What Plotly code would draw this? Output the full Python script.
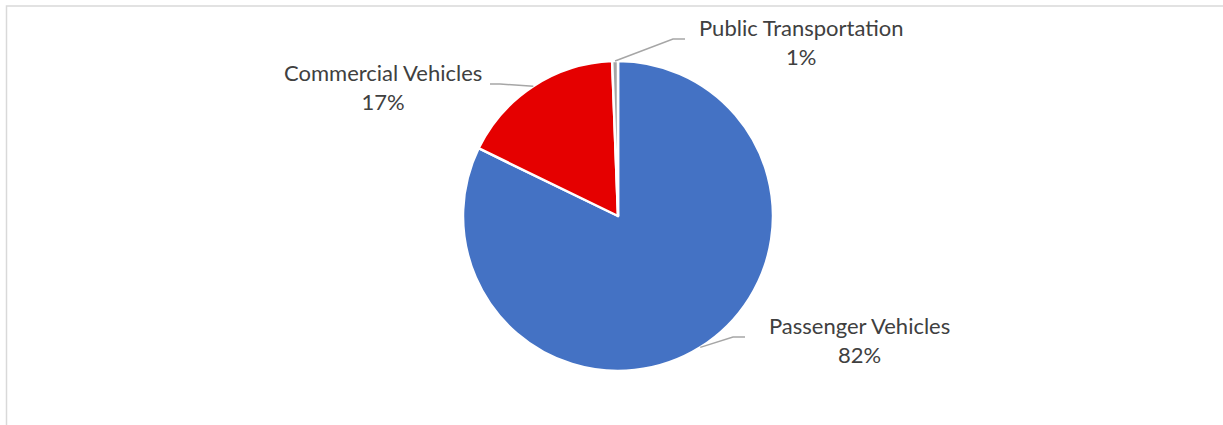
import math
import plotly.graph_objects as go

# data
categories = ["Passenger Vehicles", "Commercial Vehicles", "Public Transportation"]
values = [82.2, 17.2, 0.6]
colors = ["#4472C4", "#E50000", "#A5A5A5"]

W, H = 1223, 425
cx, cy, r = 618, 216, 155

# label layout: text centre x, text centre y, elbow x, end of horizontal segment x
label_pos = {
    "Passenger Vehicles": (859, 340, 733, 745),
    "Commercial Vehicles": (383, 87, 500, 490),
    "Public Transportation": (801, 42, 673, 685),
}


def px(x):
    return x / W


def py(y):
    return 1 - y / H


fig = go.Figure()
fig.add_trace(go.Pie(
    labels=categories,
    values=values,
    sort=False,
    direction="clockwise",
    rotation=0,
    marker=dict(colors=colors, line=dict(color="white", width=2.5)),
    textinfo="none",
    hoverinfo="label+percent",
    domain=dict(x=[px(cx - r), px(cx + r)], y=[py(cy + r), py(cy - r)]),
    showlegend=False,
))

total = sum(values)
shapes = [dict(type="rect", xref="paper", yref="paper",
               x0=px(6.5), x1=1.05, y0=-0.05, y1=py(6),
               line=dict(color="#D9D9D9", width=1.5), layer="below")]
annotations = []
cum = 0
for name, v in zip(categories, values):
    mid = (cum + v / 2) / total * 2 * math.pi
    cum += v
    ax = cx + r * math.sin(mid)
    ay = cy - r * math.cos(mid)
    tx, ty, ex, hx = label_pos[name]
    ly = ty - 3
    shapes.append(dict(type="path", xref="paper", yref="paper",
                       path=f"M {px(ax)},{py(ay)} L {px(ex)},{py(ly)} L {px(hx)},{py(ly)}",
                       line=dict(color="#A6A6A6", width=1.5)))
    annotations.append(dict(
        x=px(tx), y=py(ty), xref="paper", yref="paper",
        text=f"{name}<br>{round(v / total * 100)}%",
        showarrow=False, xanchor="center", yanchor="middle",
        font=dict(family="Lato", size=22, color="#404040"),
    ))

fig.update_layout(
    width=W, height=H,
    margin=dict(l=0, r=0, t=0, b=0),
    paper_bgcolor="white",
    plot_bgcolor="white",
    shapes=shapes,
    annotations=annotations,
)

# drop the default page margin so the figure sits at the window's corner
fig.write_html("out.html", config={"displayModeBar": False},
               post_script="document.body.style.margin='0';")
